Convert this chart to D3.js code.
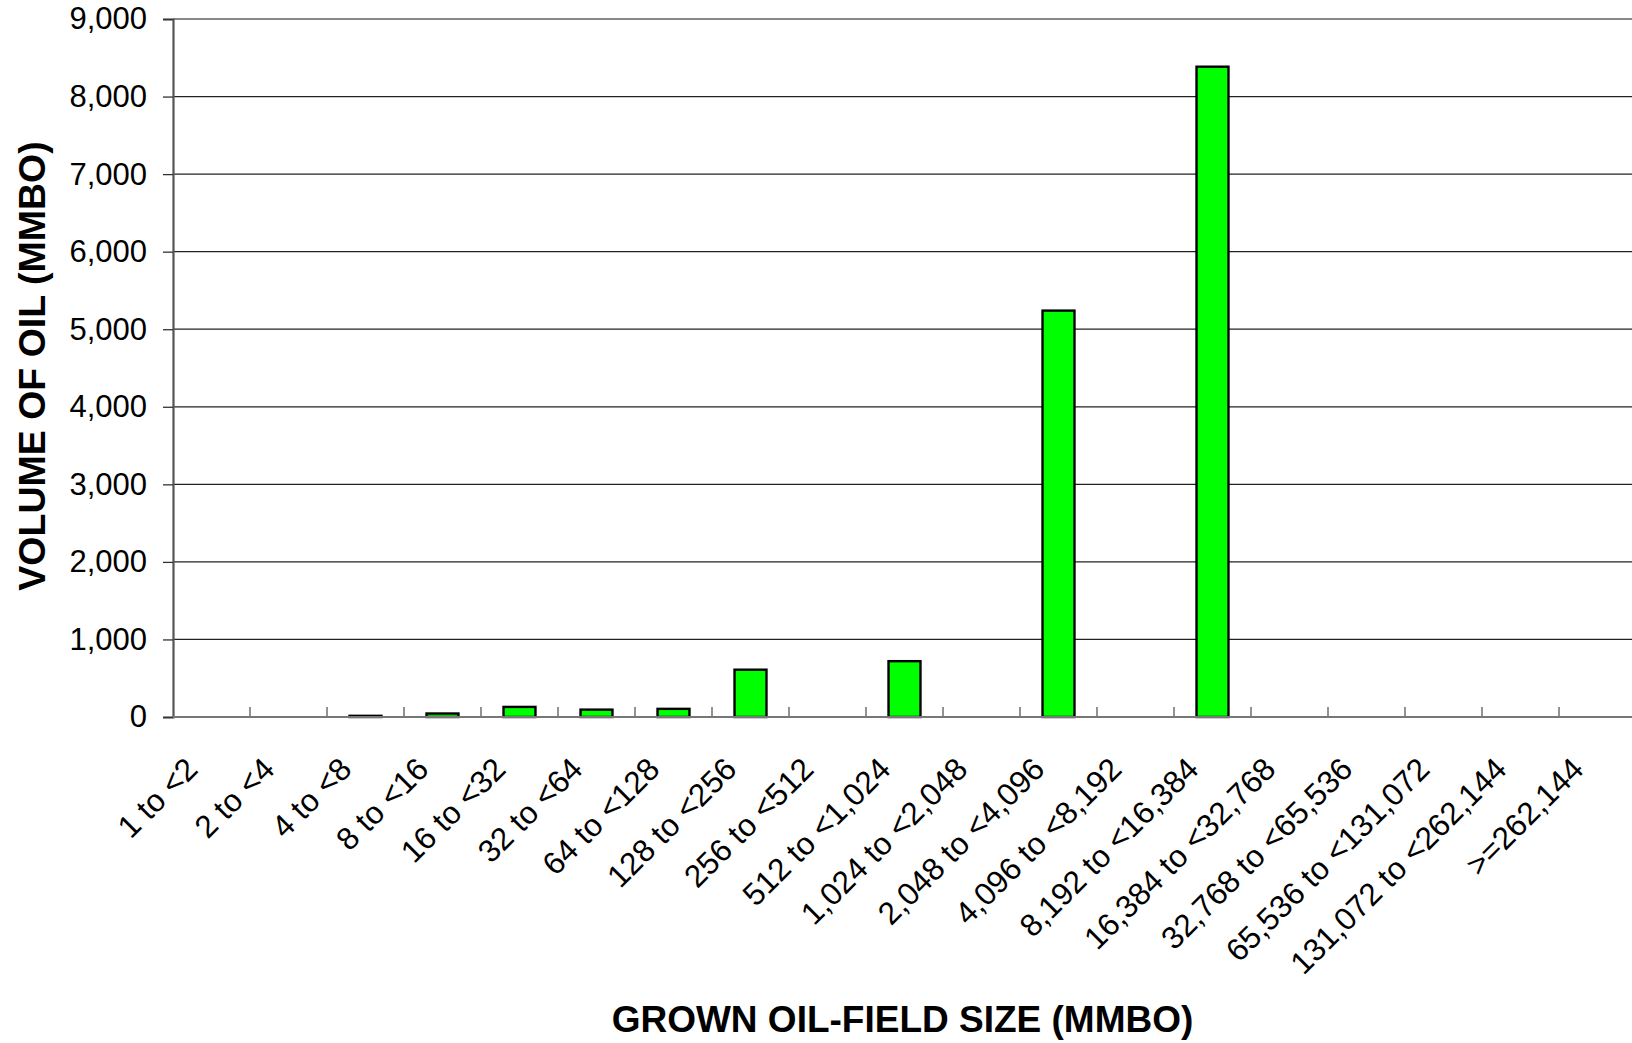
<!DOCTYPE html>
<html>
<head>
<meta charset="utf-8">
<script src="https://cdn.jsdelivr.net/npm/d3@7"></script>
<style>
  html, body { margin: 0; padding: 0; background: #fff; }
  svg { display: block; }
  text { font-family: "Liberation Sans", Arial, sans-serif; fill: #000; }
</style>
</head>
<body>
<svg id="chart" width="1632" height="1043"></svg>
<script>
const categories = [
  "1 to <2", "2 to <4", "4 to <8", "8 to <16", "16 to <32", "32 to <64",
  "64 to <128", "128 to <256", "256 to <512", "512 to <1,024",
  "1,024 to <2,048", "2,048 to <4,096", "4,096 to <8,192",
  "8,192 to <16,384", "16,384 to <32,768", "32,768 to <65,536",
  "65,536 to <131,072", "131,072 to <262,144", ">=262,144"
];
const volumes = [0, 0, 15, 45, 130, 95, 105, 610, 0, 720, 0, 5240, 0, 8385, 0, 0, 0, 0, 0];
const yTicks = [0, 1000, 2000, 3000, 4000, 5000, 6000, 7000, 8000, 9000];
const xTitle = "GROWN OIL-FIELD SIZE (MMBO)";
const yTitle = "VOLUME OF OIL (MMBO)";

(function () {
const svg = d3.select("#chart");
const pL = 173, pR = 1636, pT = 19, pB = 717;

const x = d3.scaleBand().domain(categories).range([pL, pR]).paddingInner(0).paddingOuter(0);
const y = d3.scaleLinear().domain([0, 9000]).range([pB, pT]);

// gridlines
svg.append("g")
  .selectAll("line")
  .data(yTicks.filter(t => t > 0 && t < 9000))
  .join("line")
  .attr("x1", pL).attr("x2", 1632)
  .attr("y1", d => y(d)).attr("y2", d => y(d))
  .attr("stroke", "#222").attr("stroke-width", 1.3);

// top line (plot border)
svg.append("line")
  .attr("x1", pL).attr("x2", 1632)
  .attr("y1", y(9000)).attr("y2", y(9000))
  .attr("stroke", "#888").attr("stroke-width", 2.2);

// bars
const bw = x.bandwidth() * 0.415;
svg.append("g")
  .selectAll("rect")
  .data(categories.map((c, i) => ({ c, v: volumes[i] })).filter(d => d.v > 0))
  .join("rect")
  .attr("x", d => x(d.c) + x.bandwidth() / 2 - bw / 2)
  .attr("width", bw)
  .attr("y", d => y(d.v))
  .attr("height", d => y(0) - y(d.v))
  .attr("fill", "#00ff00")
  .attr("stroke", "#000")
  .attr("stroke-width", 2.4);

// y axis
const yAxis = d3.axisLeft(y).tickValues(yTicks).tickSize(10).tickPadding(16)
  .tickFormat(d3.format(","));
const gy = svg.append("g").attr("transform", `translate(${pL},0)`).call(yAxis);
gy.select(".domain").attr("stroke", "#555").attr("stroke-width", 2.2);
gy.selectAll(".tick line").attr("stroke", "#333").attr("stroke-width", 1.3);
gy.selectAll(".tick text")
  .attr("font-size", 31).attr("font-family", "Liberation Sans, Arial, sans-serif")
  .attr("fill", "#000");

// x axis
const boundaries = d3.range(categories.length + 1).map(i => pL + i * x.bandwidth());
svg.append("line")
  .attr("x1", pL).attr("x2", 1632)
  .attr("y1", pB).attr("y2", pB)
  .attr("stroke", "#777").attr("stroke-width", 2.2);
svg.append("g")
  .selectAll("line")
  .data(boundaries.slice(1))
  .join("line")
  .attr("x1", d => d).attr("x2", d => d)
  .attr("y1", pB).attr("y2", pB - 10)
  .attr("stroke", "#777").attr("stroke-width", 1.6);

// x labels
svg.append("g")
  .selectAll("text")
  .data(categories)
  .join("text")
  .attr("transform", d => `translate(${x(d) + x.bandwidth() / 2 - 12},${pB + 54}) rotate(-45)`)
  .attr("text-anchor", "end")
  .attr("font-size", 31.5)
  .text(d => d);

// titles
svg.append("text")
  .attr("x", (pL + 1632) / 2).attr("y", 1032)
  .attr("text-anchor", "middle")
  .attr("font-size", 37).attr("font-weight", "bold")
  .text(xTitle);

svg.append("text")
  .attr("transform", `translate(45,${(pT + pB) / 2 - 2}) rotate(-90)`)
  .attr("text-anchor", "middle")
  .attr("font-size", 37.5).attr("font-weight", "bold")
  .text(yTitle);
})();
</script>
</body>
</html>
